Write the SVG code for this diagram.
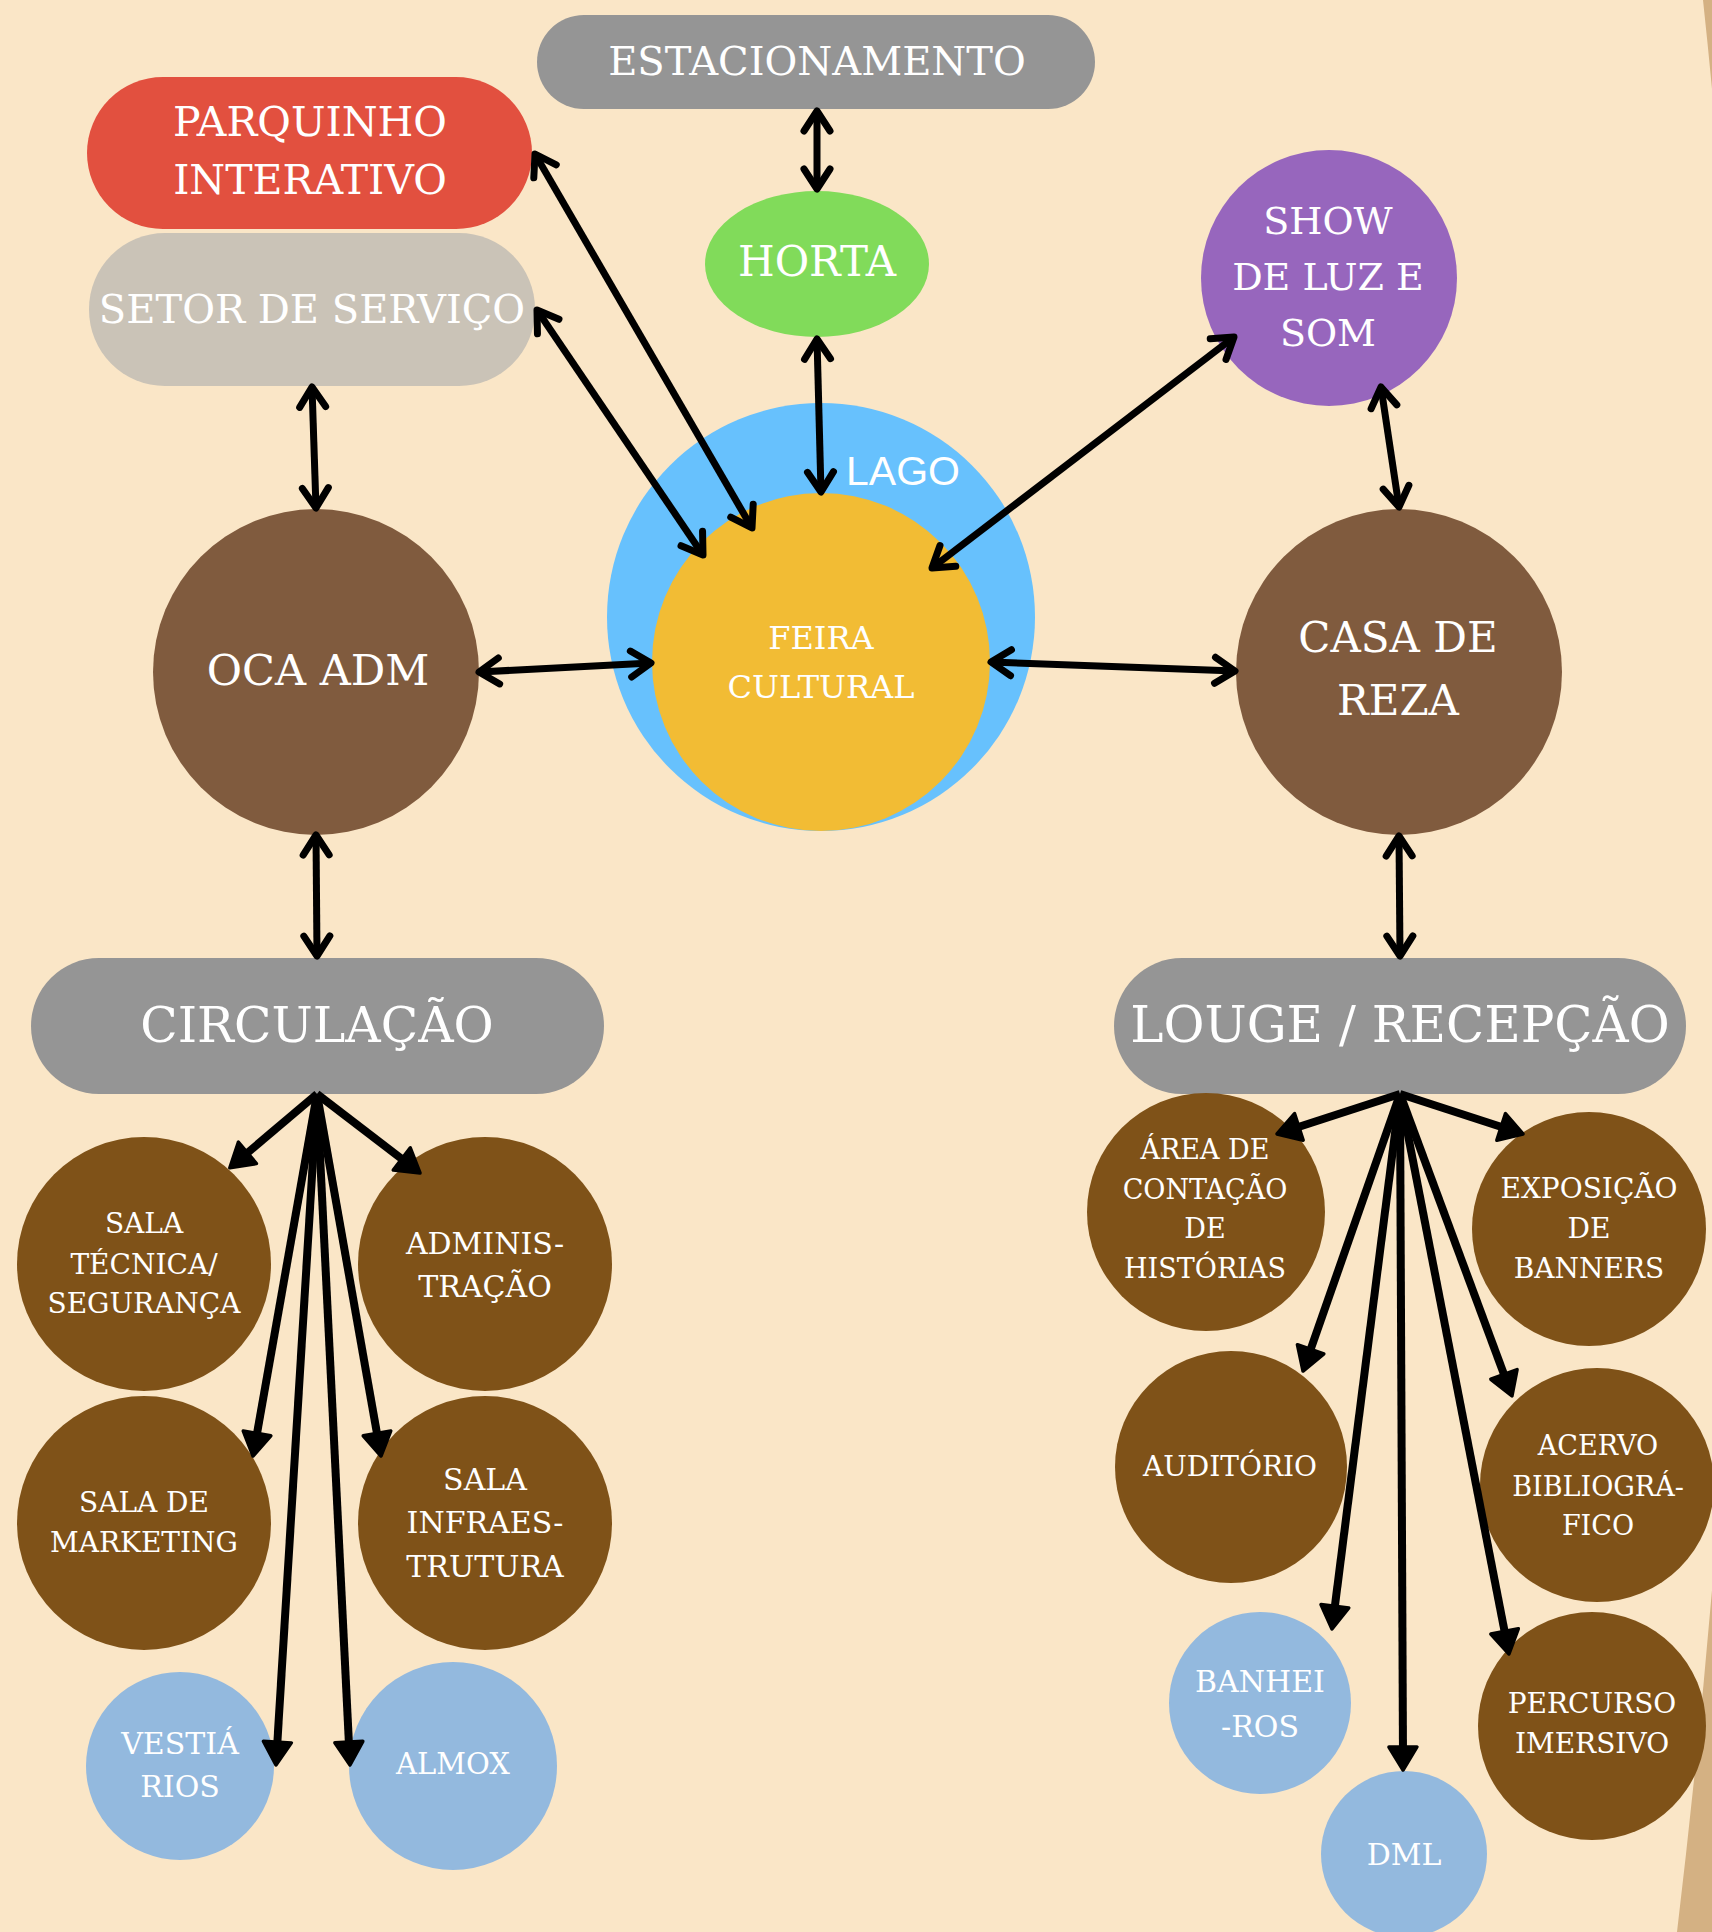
<svg xmlns="http://www.w3.org/2000/svg" width="1712" height="1932" viewBox="0 0 1712 1932">
<style>
text{font-family:'DejaVu Serif','Liberation Serif',serif;fill:#ffffff;text-anchor:middle}
.c{stroke:#000;stroke-width:7;fill:none}
.f{stroke:#000;stroke-width:8;fill:none}
.gray{fill:#959595}
.bb{fill:#805b3e}
.sb{fill:#7f5218}
.lb{fill:#93b9de}
</style>
<defs>
<marker id="chev" markerUnits="userSpaceOnUse" viewBox="-30 -20 40 40" markerWidth="40" markerHeight="40" refX="0" refY="0" orient="auto-start-reverse" overflow="visible">
<path d="M-20,-13 L0,0 L-20,13" fill="none" stroke="#000" stroke-width="7" stroke-linecap="round" stroke-linejoin="round"/>
</marker>
<marker id="tri" markerUnits="userSpaceOnUse" viewBox="-20 -20 40 40" markerWidth="40" markerHeight="40" refX="0" refY="0" orient="auto" overflow="visible">
<path d="M12,0 L-11,-14 L-11,14 Z" fill="#000" stroke="#000" stroke-width="3.5" stroke-linejoin="round"/>
</marker>
</defs>
<rect width="1712" height="1932" fill="#fae6c7"/>
<path d="M1703,0 Q1800,900 1677,1932 L1712,1932 L1712,0 Z" fill="#d4b183"/>

<g id="estacionamento"><rect class="gray" x="537" y="15" width="558" height="94" rx="47"/><text x="817" y="75" font-size="40">ESTACIONAMENTO</text></g>
<g id="parquinho"><rect x="87" y="77" width="445" height="152" rx="76" fill="#e2503f"/><text x="310" y="136" font-size="41">PARQUINHO</text><text x="310" y="194" font-size="41">INTERATIVO</text></g>
<g id="setor-servico"><rect x="89" y="233" width="446" height="153" rx="76" fill="#cac3b7"/><text x="312" y="323" font-size="40">SETOR DE SERVIÇO</text></g>
<g id="horta"><ellipse cx="817" cy="264" rx="112" ry="73" fill="#81db5a"/><text x="817" y="276" font-size="42">HORTA</text></g>
<g id="show"><circle cx="1329" cy="278" r="128" fill="#9766bd"/><text x="1328" y="234" font-size="38">SHOW</text><text x="1328" y="290" font-size="38">DE LUZ E</text><text x="1328" y="346" font-size="38">SOM</text></g>
<g id="lago"><circle cx="821" cy="617" r="214" fill="#67c1fd"/><text x="846" y="485" font-size="41" style="font-family:'Liberation Sans',Arial,sans-serif;text-anchor:start">LAGO</text></g>
<g id="feira"><circle cx="821" cy="662" r="169" fill="#f2bc34"/><text x="821" y="649" font-size="32">FEIRA</text><text x="821" y="698" font-size="32">CULTURAL</text></g>
<g id="oca-adm"><circle class="bb" cx="316" cy="672" r="163"/><text x="318" y="685" font-size="43">OCA ADM</text></g>
<g id="casa-reza"><circle class="bb" cx="1399" cy="672" r="163"/><text x="1398" y="652" font-size="42">CASA DE</text><text x="1398" y="715" font-size="42">REZA</text></g>
<g id="circulacao"><rect class="gray" x="31" y="958" width="573" height="136" rx="68"/><text x="317" y="1042" font-size="49">CIRCULAÇÃO</text></g>
<g id="louge"><rect class="gray" x="1114" y="958" width="572" height="136" rx="68"/><text x="1400" y="1042" font-size="50">LOUGE / RECEPÇÃO</text></g>

<g id="sala-tecnica"><circle class="sb" cx="144" cy="1264" r="127"/><text x="144" y="1233" font-size="28">SALA</text><text x="144" y="1274" font-size="28">TÉCNICA/</text><text x="144" y="1313" font-size="28">SEGURANÇA</text></g>
<g id="administracao"><circle class="sb" cx="485" cy="1264" r="127"/><text x="485" y="1254" font-size="30">ADMINIS-</text><text x="485" y="1297" font-size="30">TRAÇÃO</text></g>
<g id="marketing"><circle class="sb" cx="144" cy="1523" r="127"/><text x="144" y="1512" font-size="28">SALA DE</text><text x="144" y="1552" font-size="28">MARKETING</text></g>
<g id="infraestrutura"><circle class="sb" cx="485" cy="1523" r="127"/><text x="485" y="1490" font-size="30">SALA</text><text x="485" y="1533" font-size="30">INFRAES-</text><text x="485" y="1577" font-size="30">TRUTURA</text></g>
<g id="vestiarios"><circle class="lb" cx="180" cy="1766" r="94"/><text x="180" y="1754" font-size="30">VESTIÁ</text><text x="180" y="1797" font-size="30">RIOS</text></g>
<g id="almox"><circle class="lb" cx="453" cy="1766" r="104"/><text x="453" y="1774" font-size="29">ALMOX</text></g>

<g id="area-contacao"><circle class="sb" cx="1206" cy="1212" r="119"/><text x="1205" y="1159" font-size="27">ÁREA DE</text><text x="1205" y="1199" font-size="27">CONTAÇÃO</text><text x="1205" y="1238" font-size="27">DE</text><text x="1205" y="1278" font-size="27">HISTÓRIAS</text></g>
<g id="exposicao"><circle class="sb" cx="1589" cy="1229" r="117"/><text x="1589" y="1198" font-size="28">EXPOSIÇÃO</text><text x="1589" y="1238" font-size="28">DE</text><text x="1589" y="1278" font-size="28">BANNERS</text></g>
<g id="auditorio"><circle class="sb" cx="1231" cy="1467" r="116"/><text x="1230" y="1476" font-size="28">AUDITÓRIO</text></g>
<g id="acervo"><circle class="sb" cx="1597" cy="1485" r="117"/><text x="1598" y="1455" font-size="27">ACERVO</text><text x="1598" y="1496" font-size="27">BIBLIOGRÁ-</text><text x="1598" y="1535" font-size="27">FICO</text></g>
<g id="banheiros"><circle class="lb" cx="1260" cy="1703" r="91"/><text x="1260" y="1692" font-size="30">BANHEI</text><text x="1260" y="1737" font-size="30">-ROS</text></g>
<g id="dml"><circle class="lb" cx="1404" cy="1854" r="83"/><text x="1404" y="1865" font-size="30">DML</text></g>
<g id="percurso"><circle class="sb" cx="1592" cy="1726" r="114"/><text x="1592" y="1713" font-size="28">PERCURSO</text><text x="1592" y="1753" font-size="28">IMERSIVO</text></g>

<g id="connectors">
<line class="c" x1="817" y1="111" x2="817" y2="189" marker-start="url(#chev)" marker-end="url(#chev)"/>
<line class="c" x1="817" y1="339" x2="821" y2="492" marker-start="url(#chev)" marker-end="url(#chev)"/>
<line class="c" x1="535" y1="154" x2="752" y2="528" marker-start="url(#chev)" marker-end="url(#chev)"/>
<line class="c" x1="537" y1="310" x2="703" y2="555" marker-start="url(#chev)" marker-end="url(#chev)"/>
<line class="c" x1="1234" y1="337" x2="932" y2="568" marker-start="url(#chev)" marker-end="url(#chev)"/>
<line class="c" x1="1381" y1="387" x2="1399" y2="507" marker-start="url(#chev)" marker-end="url(#chev)"/>
<line class="c" x1="312" y1="387" x2="316" y2="508" marker-start="url(#chev)" marker-end="url(#chev)"/>
<line class="c" x1="479" y1="672" x2="651" y2="663" marker-start="url(#chev)" marker-end="url(#chev)"/>
<line class="c" x1="991" y1="662" x2="1235" y2="671" marker-start="url(#chev)" marker-end="url(#chev)"/>
<line class="c" x1="316" y1="835" x2="317" y2="956" marker-start="url(#chev)" marker-end="url(#chev)"/>
<line class="c" x1="1399" y1="836" x2="1400" y2="956" marker-start="url(#chev)" marker-end="url(#chev)"/>

<line class="f" x1="317" y1="1094" x2="239" y2="1160" marker-end="url(#tri)"/>
<line class="f" x1="317" y1="1094" x2="410.5" y2="1165.7" marker-end="url(#tri)"/>
<line class="f" x1="317" y1="1094" x2="255.1" y2="1444.2" marker-end="url(#tri)"/>
<line class="f" x1="317" y1="1094" x2="378.9" y2="1444.2" marker-end="url(#tri)"/>
<line class="f" x1="317" y1="1094" x2="276.7" y2="1753" marker-end="url(#tri)"/>
<line class="f" x1="317" y1="1094" x2="349.4" y2="1753" marker-end="url(#tri)"/>

<line class="f" x1="1400" y1="1094" x2="1288.4" y2="1130.3" marker-end="url(#tri)"/>
<line class="f" x1="1400" y1="1094" x2="1511.6" y2="1130.3" marker-end="url(#tri)"/>
<line class="f" x1="1400" y1="1094" x2="1307" y2="1359.7" marker-end="url(#tri)"/>
<line class="f" x1="1400" y1="1094" x2="1507.8" y2="1384.7" marker-end="url(#tri)"/>
<line class="f" x1="1400" y1="1094" x2="1333.5" y2="1617.1" marker-end="url(#tri)"/>
<line class="f" x1="1400" y1="1094" x2="1403" y2="1758" marker-end="url(#tri)"/>
<line class="f" x1="1400" y1="1094" x2="1506.7" y2="1642.2" marker-end="url(#tri)"/>
</g>
</svg>
